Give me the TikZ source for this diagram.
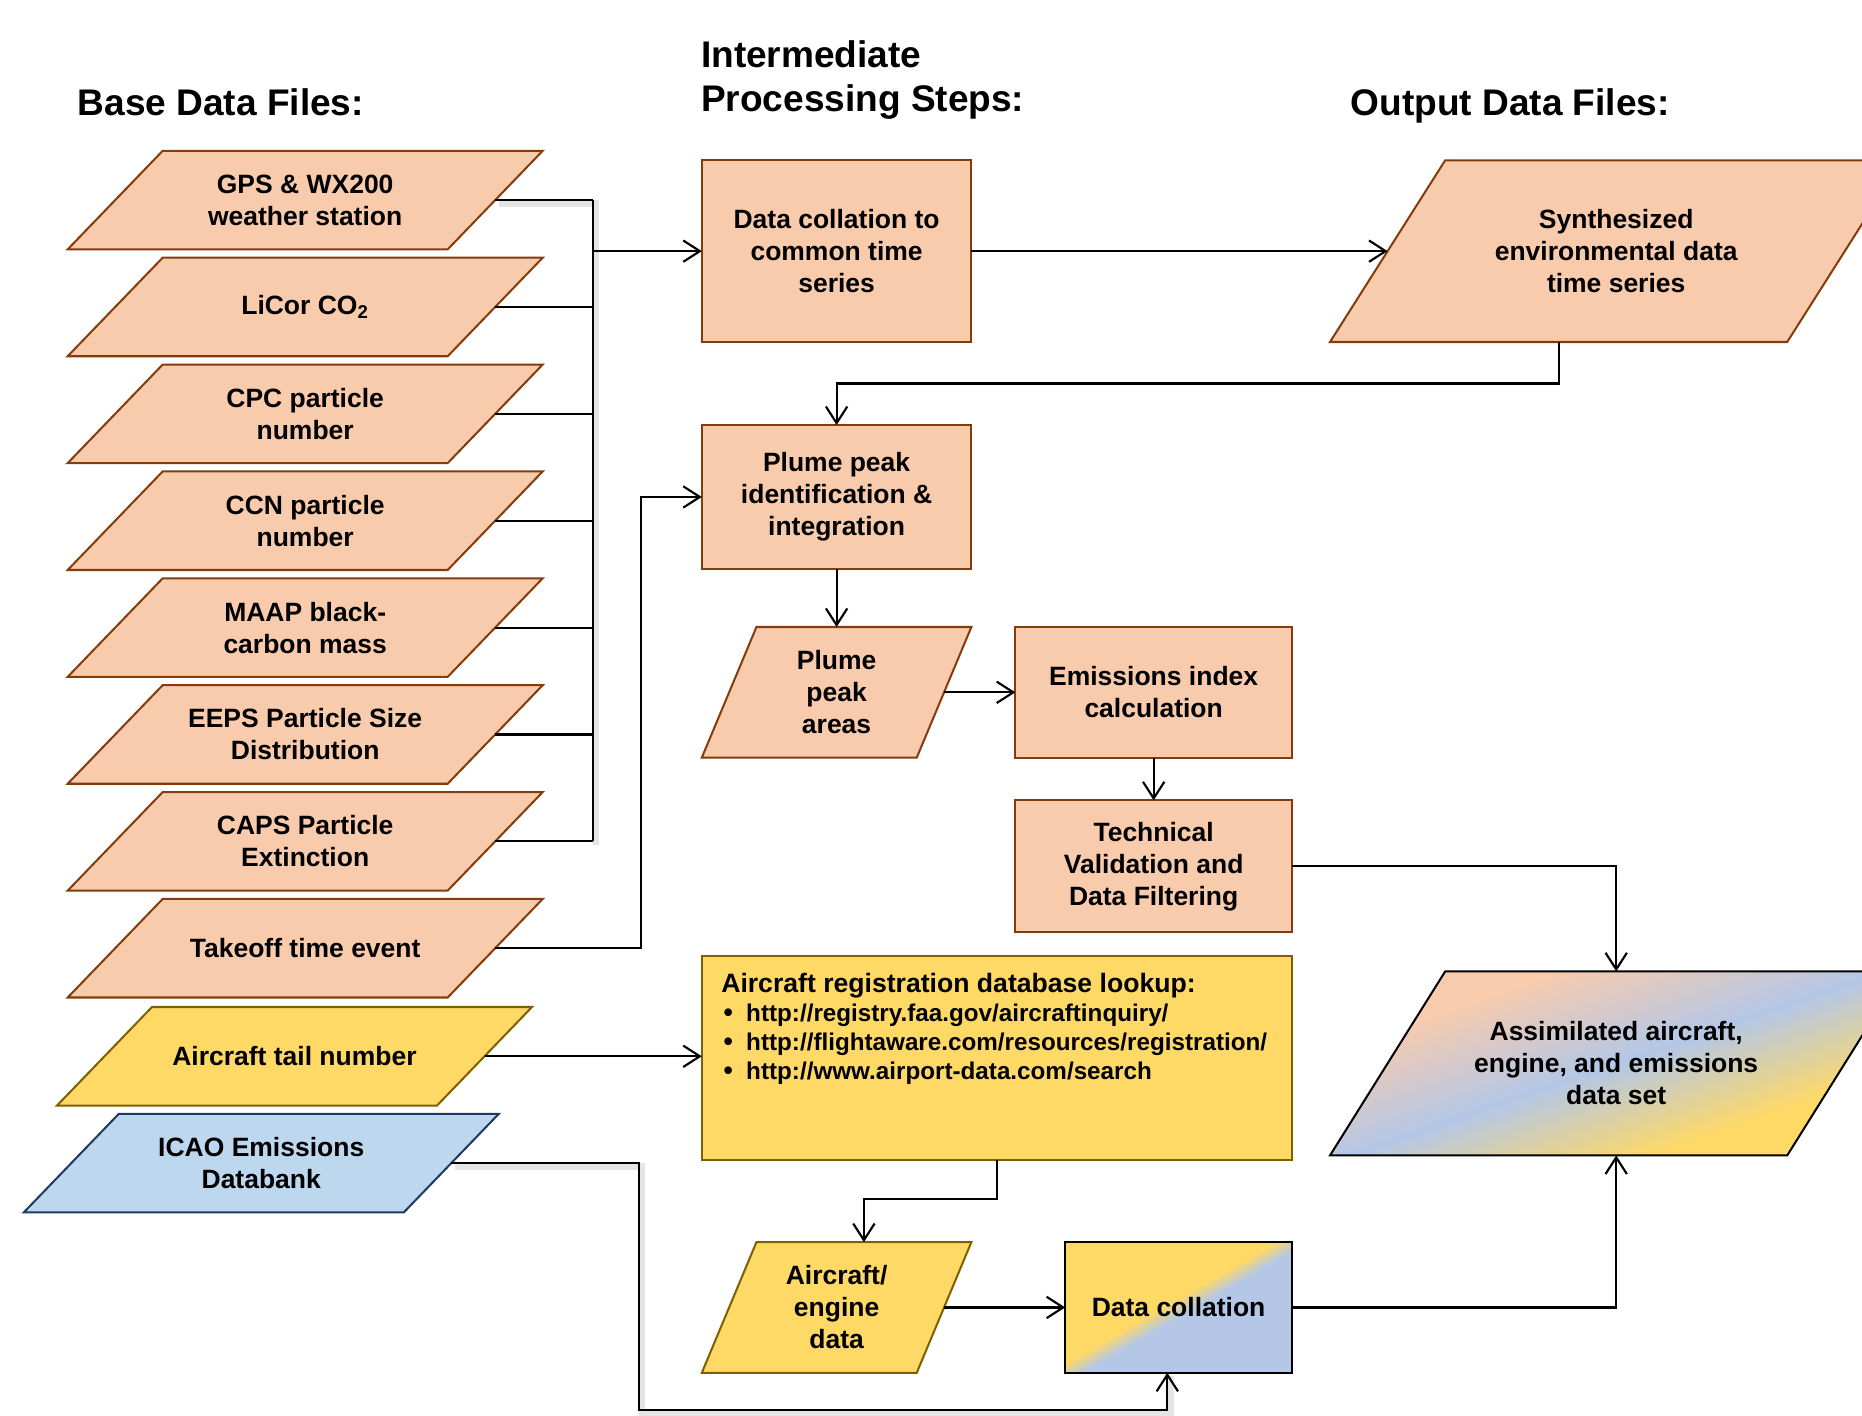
\documentclass[tikz,border=0pt]{standalone}
\usepackage{fontspec}
\setmainfont{Liberation Sans}
\usetikzlibrary{arrows.meta, calc, backgrounds}
\definecolor{peach}{HTML}{F8CBAD}
\definecolor{brownb}{HTML}{843C0C}
\definecolor{gold}{HTML}{FFD966}
\definecolor{goldb}{HTML}{7F6000}
\definecolor{lblue}{HTML}{BDD7EE}
\definecolor{navyb}{HTML}{203864}
\definecolor{gblue}{HTML}{B4C7E7}
\pgfdeclarehorizontalshading{assimshade}{100bp}{color(0bp)=(peach); color(35bp)=(peach); color(50bp)=(gblue); color(64bp)=(gold); color(100bp)=(gold)}
\pgfdeclarehorizontalshading{collshade}{100bp}{color(0bp)=(gold); color(48.8bp)=(gold); color(51.2bp)=(gblue); color(100bp)=(gblue)}
\newcommand{\nodefont}{\fontsize{11.15}{13.5}\selectfont\bfseries}
\newcommand{\regfont}{\fontsize{11.2}{12.25}\selectfont\bfseries}
\newcommand{\urlfont}{\fontsize{10.2}{12.25}\selectfont\bfseries}
\newcommand{\headfont}{\fontsize{15.6}{18.5}\selectfont\bfseries}
\newcommand{\regbullet}{\makebox[10.5pt][l]{\hspace{1pt}•}}
% parallelogram outline around a node: #1 style, #2 node, #3 half slant offset
\newcommand{\pgram}[3]{%
  \draw[#1] ($(#2.north west)+(#3,0)$) -- ($(#2.north east)+(#3,0)$) -- ($(#2.south east)-(#3,0)$) -- ($(#2.south west)-(#3,0)$) -- cycle;}
% gradient fill clipped to a parallelogram: #1 node, #2 half offset, #3 shading, #4 angle
\newcommand{\pgramshade}[4]{%
  \begin{scope}
    \clip ($(#1.north west)+(#2,0)$) -- ($(#1.north east)+(#2,0)$) -- ($(#1.south east)-(#2,0)$) -- ($(#1.south west)-(#2,0)$) -- cycle;
    \shade[shading=#3, transform canvas={rotate around={#4:(#1.center)}}] ($(#1.center)+(-150,-300)$) rectangle ($(#1.center)+(150,300)$);
  \end{scope}}
\begin{document}
\begin{tikzpicture}[x=0.5pt, y=-0.5pt,
  box/.style={rectangle, draw=brownb, fill=peach, line width=0.85pt, font=\nodefont, align=center, inner sep=0pt, outer sep=0pt},
  ptext/.style={rectangle, font=\nodefont, align=center, inner sep=0pt, outer sep=0pt},
  basepara/.style={ptext, minimum width=160pt, minimum height=41.5pt},
  widepara/.style={ptext, minimum width=192.5pt, minimum height=#1},
  smallpara/.style={ptext, minimum width=90.5pt, minimum height=55pt},
  peachshape/.style={draw=brownb, fill=peach, line width=0.85pt},
  goldshape/.style={draw=goldb, fill=gold, line width=0.85pt},
  blueshape/.style={draw=navyb, fill=lblue, line width=0.85pt},
  head/.style={font=\headfont, inner sep=0pt},
  conn/.style={draw=black, line width=0.9pt},
  arr/.style={conn, -{Straight Barb[length=7pt, width=9pt, line width=0.9pt]}},
  shadowline/.style={draw=black, opacity=0.10, line width=2.6pt}
]
\useasboundingbox (0,0) rectangle (1568,1192);
\clip (0,0) rectangle (1568,1192);

% headings
\node[head, anchor=base west] (h1) at (65,97) {Base Data Files:};
\node[head, anchor=north west, align=left] (h2) at (590,34) {Intermediate\\Processing Steps:};
\node[head, anchor=base west] (h3) at (1137,97) {Output Data Files:};

% base data files (text + body of parallelogram)
\node[basepara] (gps) at (257,168.5) {GPS \& WX200\\weather station};
\node[basepara] (licor) at (257,258.5) {LiCor CO\textsubscript{2}};
\node[basepara] (cpc) at (257,348.5) {CPC particle\\number};
\node[basepara] (ccn) at (257,438.5) {CCN particle\\number};
\node[basepara] (maap) at (257,528.5) {MAAP black-\\carbon mass};
\node[basepara] (eeps) at (257,618.5) {EEPS Particle Size\\Distribution};
\node[basepara] (caps) at (257,708.5) {CAPS Particle\\Extinction};
\node[basepara] (takeoff) at (257,798.5) {Takeoff time event};
\node[basepara] (tail) at (248,889.5) {Aircraft tail number};
\node[basepara] (icao) at (220,979.5) {ICAO Emissions\\Databank};

% processing steps
\node[box, minimum width=113.5pt, minimum height=76.5pt] (dcoll) at (704.5,211.5) {Data collation to\\common time\\series};
\node[widepara=76.5pt] (synth) at (1361,211.5) {Synthesized\\environmental data\\time series};
\node[box, minimum width=113.5pt, minimum height=60.5pt] (plume) at (704.5,418.5) {Plume peak\\identification \&\\integration};
\node[smallpara] (ppa) at (704.5,583) {Plume\\peak\\areas};
\node[box, minimum width=116.5pt, minimum height=55pt] (emis) at (971.5,583) {Emissions index\\calculation};
\node[box, minimum width=116.5pt, minimum height=55.5pt] (tech) at (971.5,729.5) {Technical\\Validation and\\Data Filtering};
\node[widepara=77.5pt] (assim) at (1361,895.5) {Assimilated aircraft,\\engine, and emissions\\data set};
\node[box, fill=gold, draw=goldb, minimum width=248.5pt, minimum height=86pt] (reg) at (839.5,891) {};
\node[anchor=north west, font=\regfont, align=left, inner sep=0pt] (regtext) at (607,819) {Aircraft registration database lookup:\\
\regbullet{\urlfont http://registry.faa.gov/aircraftinquiry/}\\
\regbullet{\urlfont http://flightaware.com/resources/registration/}\\
\regbullet{\urlfont http://www.airport-data.com/search}};
\node[smallpara] (aed) at (704.5,1101) {Aircraft/\\engine\\data};
\node[box, draw=black, fill=none, minimum width=95.5pt, minimum height=55pt] (dcol2) at (992.5,1101) {Data collation};

% shapes behind the texts
\begin{pgfonlayer}{background}
  \foreach \n in {gps,licor,cpc,ccn,maap,eeps,caps,takeoff} {\pgram{peachshape}{\n}{40}}
  \pgram{goldshape}{tail}{40}
  \pgram{blueshape}{icao}{40}
  \pgram{peachshape}{synth}{48.5}
  \pgram{peachshape}{ppa}{23}
  \pgram{goldshape}{aed}{23}
  \pgramshade{assim}{48.5}{assimshade}{-71}
  \pgram{draw=black, line width=0.85pt}{assim}{48.5}
  \pgramshade{dcol2}{0}{collshade}{-60}
\end{pgfonlayer}

% helper coordinates
\coordinate (busx) at (499,0);
\coordinate (tkx) at (540,0);
\coordinate (icx) at (538,0);
\coordinate (icy) at (0,1187);
\coordinate (icend) at (983,0);
\coordinate (synthy) at (0,323);
\coordinate (regy) at (0,1010);
\coordinate (synthb) at ($(synth.south)-(48.5,0)$);
\coordinate (aedt) at ($(aed.north)+(23,0)$);

% shadows
\begin{scope}[transform canvas={shift={(1.4pt,-1.4pt)}}]
  \draw[shadowline] (gps.east) -- (gps.east -| busx) -- (caps.east -| busx);
  \draw[shadowline] (icao.east) -- (icao.east -| icx) -- (icx |- icy) -- (icend |- icy) -- (icend |- dcol2.south);
\end{scope}

% connectors
\foreach \n in {gps,licor,cpc,ccn,maap,eeps,caps} {\draw[conn] (\n.east) -- (\n.east -| busx);}
\draw[conn] (gps.east -| busx) -- (caps.east -| busx);
\draw[arr] (dcoll.west -| busx) -- (dcoll.west);
\draw[arr] (takeoff.east) -- (takeoff.east -| tkx) -- (tkx |- plume.west) -- (plume.west);
\draw[arr] (tail.east) -- (tail.east -| reg.west);
\draw[arr] (icao.east) -- (icao.east -| icx) -- (icx |- icy) -- (icend |- icy) -- (icend |- dcol2.south);
\draw[arr] (dcoll.east) -- (synth.west);
\draw[arr] (synthb) -- (synthb |- synthy) -- (plume.north |- synthy) -- (plume.north);
\draw[arr] (plume.south) -- (plume.south |- ppa.north);
\draw[arr] (ppa.east) -- (ppa.east -| emis.west);
\draw[arr] (emis.south) -- (tech.north);
\draw[arr] (tech.east) -- (tech.east -| assim.north) -- (assim.north);
\draw[arr] (reg.south) -- (reg.south |- regy) -- (aedt |- regy) -- (aedt);
\draw[arr] (aed.east) -- (aed.east -| dcol2.west);
\draw[arr] (dcol2.east) -- (dcol2.east -| assim.south) -- (assim.south);
\end{tikzpicture}
\end{document}
